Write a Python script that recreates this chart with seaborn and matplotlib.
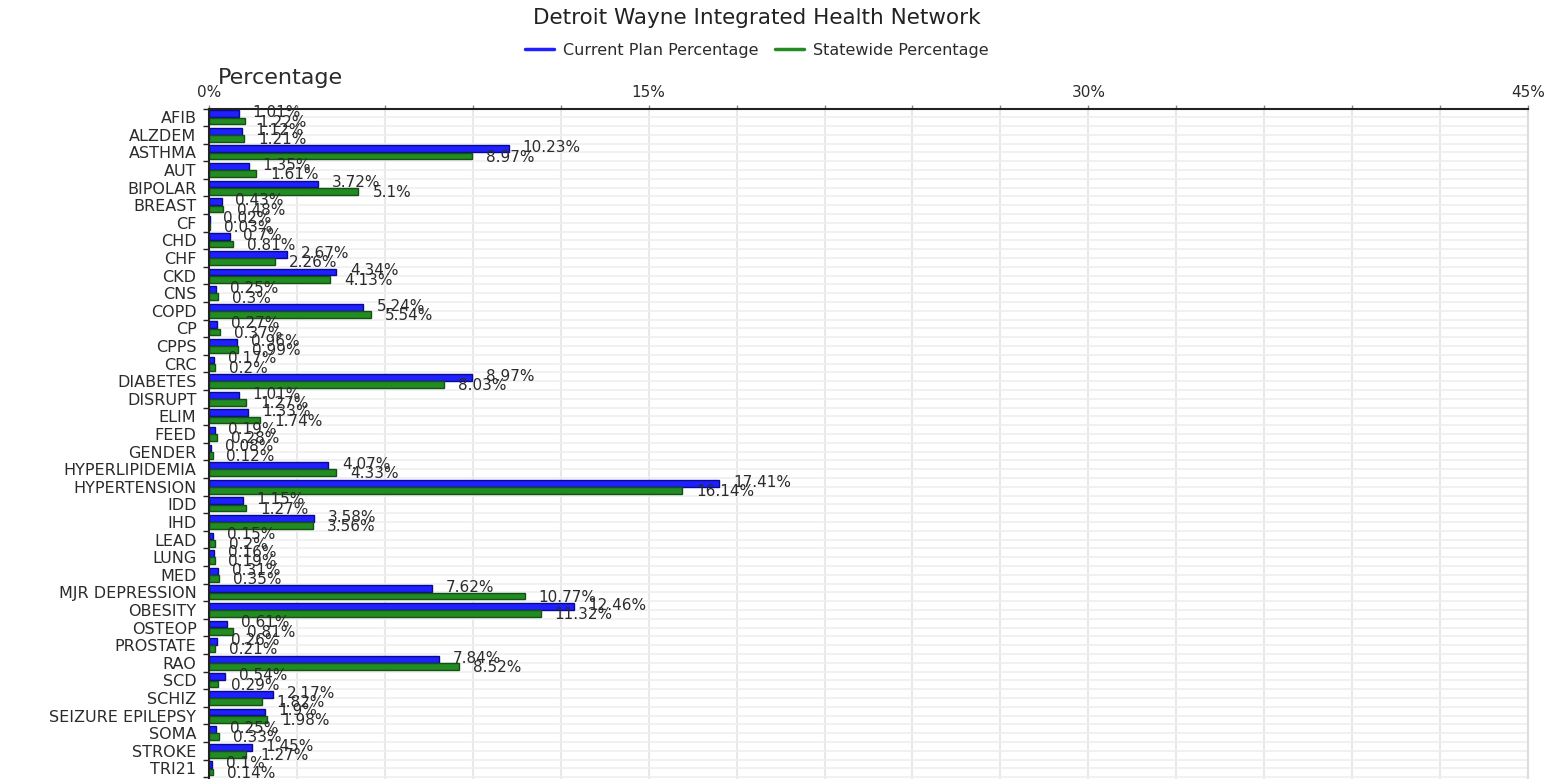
import matplotlib
matplotlib.use("Agg")
import matplotlib.pyplot as plt
from matplotlib.lines import Line2D
from matplotlib.ticker import MultipleLocator, FixedLocator, FuncFormatter
import seaborn as sns
import pandas as pd
import numpy as np

conditions = ["AFIB", "ALZDEM", "ASTHMA", "AUT", "BIPOLAR", "BREAST", "CF", "CHD", "CHF", "CKD",
              "CNS", "COPD", "CP", "CPPS", "CRC", "DIABETES", "DISRUPT", "ELIM", "FEED", "GENDER",
              "HYPERLIPIDEMIA", "HYPERTENSION", "IDD", "IHD", "LEAD", "LUNG", "MED", "MJR DEPRESSION",
              "OBESITY", "OSTEOP", "PROSTATE", "RAO", "SCD", "SCHIZ", "SEIZURE EPILEPSY", "SOMA",
              "STROKE", "TRI21"]
current_plan = [1.01, 1.12, 10.23, 1.35, 3.72, 0.43, 0.02, 0.7, 2.67, 4.34,
                0.25, 5.24, 0.27, 0.96, 0.17, 8.97, 1.01, 1.33, 0.19, 0.08,
                4.07, 17.41, 1.15, 3.58, 0.15, 0.16, 0.31, 7.62,
                12.46, 0.61, 0.26, 7.84, 0.54, 2.17, 1.9, 0.25,
                1.45, 0.1]
statewide = [1.22, 1.21, 8.97, 1.61, 5.1, 0.48, 0.03, 0.81, 2.26, 4.13,
             0.3, 5.54, 0.37, 0.99, 0.2, 8.03, 1.27, 1.74, 0.28, 0.12,
             4.33, 16.14, 1.27, 3.56, 0.2, 0.19, 0.35, 10.77,
             11.32, 0.81, 0.21, 8.52, 0.29, 1.82, 1.98, 0.33,
             1.27, 0.14]
series_names = ["Current Plan Percentage", "Statewide Percentage"]
x_ticks = [0, 15, 30, 45]

df = pd.DataFrame({
    "Condition": conditions * 2,
    "Percentage": current_plan + statewide,
    "Series": [series_names[0]] * len(conditions) + [series_names[1]] * len(conditions),
})

sns.set_style("white")
plt.rcParams["font.family"] = ["DejaVu Sans"]

fill_colors = ["#1f1fff", "#228b22"]
edge_colors = ["#0a0a8c", "#145214"]
text_color = "#2b2b2b"

fig = plt.figure(figsize=(15.5, 7.79), dpi=100)
ax = fig.add_axes([209 / 1550, 0.0, (1528 - 209) / 1550, 670.5 / 779])

sns.barplot(data=df, y="Condition", x="Percentage", hue="Series", orient="h",
            palette=fill_colors, width=0.82, gap=0.06, errorbar=None,
            order=conditions, hue_order=series_names, ax=ax, legend=False,
            linewidth=1.0, saturation=1)

series_values = [current_plan, statewide]
label_dy = [0.8, -0.8]
for idx, (cont, ec) in enumerate(zip(ax.containers, edge_colors)):
    for p, v in zip(cont.patches, series_values[idx]):
        p.set_edgecolor(ec)
        p.set_linewidth(1.0)
        yc = p.get_y() + p.get_height() / 2
        ax.annotate(f"{v:g}%", xy=(p.get_x() + p.get_width(), yc),
                    xytext=(10, label_dy[idx]), textcoords="offset points",
                    ha="left", va="center", fontsize=11, color=text_color)

ax.set_xlim(0, 45)
ax.set_ylim(37.6, -0.5)

ax.xaxis.set_major_locator(FixedLocator(x_ticks))
ax.xaxis.set_minor_locator(MultipleLocator(3))
ax.xaxis.set_major_formatter(FuncFormatter(lambda v, _: f"{v:g}%"))
ax.xaxis.tick_top()
ax.tick_params(axis="x", which="both", top=True, bottom=False, labeltop=True,
               labelbottom=False, length=3, width=1, color="#888888", pad=3,
               labelsize=11, labelcolor=text_color)

ax.yaxis.set_minor_locator(FixedLocator(np.arange(len(conditions) + 1) - 0.5))
ax.tick_params(axis="y", which="major", length=0, pad=9, labelsize=11.5, labelcolor=text_color)
ax.tick_params(axis="y", which="minor", left=True, length=4, width=1, color="#222222")

ax.set_xlabel("")
ax.set_ylabel("")

ax.set_axisbelow(True)
ax.grid(axis="x", which="both", color="#e8e8e8", linewidth=1.5)
ax.grid(axis="y", which="both", color="#efefef", linewidth=1.2)

for side in ["top", "left"]:
    ax.spines[side].set_color("#222222")
    ax.spines[side].set_linewidth(1.5)
ax.spines["right"].set_color("#dddddd")
ax.spines["right"].set_linewidth(1.5)
ax.spines["bottom"].set_visible(False)

fig.text(757 / 1550, 1 - 18 / 779, "Detroit Wayne Integrated Health Network",
         ha="center", va="center", fontsize=15.5, color="#222222")
fig.text(218 / 1550, 1 - 78 / 779, "Percentage", ha="left", va="center",
         fontsize=16, color=text_color)

handles = [Line2D([0], [0], color=c, lw=2.5) for c in fill_colors]
fig.legend(handles, series_names, loc="center", bbox_to_anchor=(757 / 1550, 1 - 50 / 779),
           ncol=2, frameon=False, fontsize=11.5, handlelength=1.8, columnspacing=1.0,
           handletextpad=0.6, labelcolor=text_color)

fig.savefig("out.png", dpi=100)
